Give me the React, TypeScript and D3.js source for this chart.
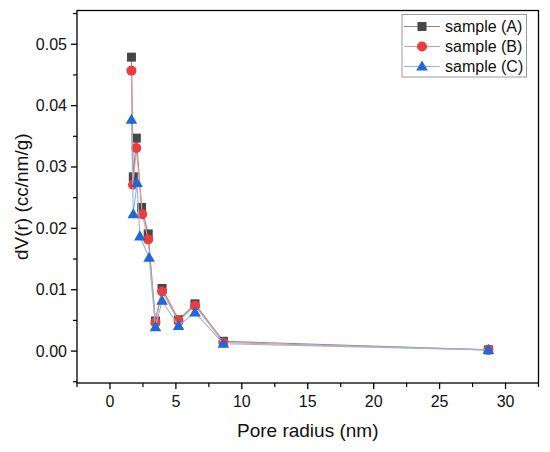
import * as d3 from "d3";

// pore radius (nm) and dV(r) (cc/nm/g)
const radiusA = [1.63, 1.77, 2.0, 2.4, 2.9, 3.45, 3.95, 5.2, 6.45, 8.6, 28.7];
const valuesA = [0.0479, 0.0284, 0.0347, 0.0234, 0.0191, 0.0049, 0.0102, 0.0051, 0.0077, 0.0016, 0.0002];
const radiusB = [1.63, 1.75, 2.0, 2.45, 2.9, 3.45, 3.95, 5.2, 6.45, 8.6, 28.7];
const valuesB = [0.0457, 0.0271, 0.0331, 0.0223, 0.0182, 0.0047, 0.0097, 0.0049, 0.0074, 0.0014, 0.0002];
const radiusC = [1.63, 1.77, 2.05, 2.27, 2.97, 3.45, 3.95, 5.2, 6.45, 8.6, 28.7];
const valuesC = [0.0377, 0.0223, 0.0274, 0.0187, 0.0152, 0.0039, 0.0082, 0.0041, 0.0063, 0.0012, 0.0002];

const seriesNames = ["sample (A)", "sample (B)", "sample (C)"];
const xTicks = [0, 5, 10, 15, 20, 25, 30];
const yTicks = [0, 0.01, 0.02, 0.03, 0.04, 0.05];

const markerColors = ["#474747", "#ee3b3b", "#1f68d8"];
const lineColors = ["#8c8c8c", "#e79595", "#8db7e6"];
const font = "'Liberation Sans', Arial, sans-serif";

function Marker({ kind, x, y, color }: { kind: number; x: number; y: number; color: string }) {
  if (kind === 0) return <rect x={x - 4.5} y={y - 4.5} width={9} height={9} fill={color} />;
  if (kind === 1) return <circle cx={x} cy={y} r={5} fill={color} />;
  const s = 5.8;
  return (
    <path
      d={`M${x},${y - s * 1.05} L${x + s},${y + s * 0.7} L${x - s},${y + s * 0.7} Z`}
      fill={color}
    />
  );
}

export default function App() {
  const width = 550;
  const height = 452;
  const left = 77;
  const right = 538.5;
  const top = 10.5;
  const bottom = 383;

  const x = d3.scaleLinear().domain([-2.5, 32.5]).range([left, right]);
  const y = d3.scaleLinear().domain([-0.0052, 0.0555]).range([bottom, top]);

  const data = [
    radiusA.map((r, i) => [r, valuesA[i]] as [number, number]),
    radiusB.map((r, i) => [r, valuesB[i]] as [number, number]),
    radiusC.map((r, i) => [r, valuesC[i]] as [number, number]),
  ];

  const line = d3
    .line<[number, number]>()
    .x((d) => x(d[0]))
    .y((d) => y(d[1]));

  const xMinor = d3.range(-2.5, 32.6, 2.5).filter((v) => !xTicks.includes(v));
  const yMinor = d3
    .range(-0.005, 0.0555, 0.01)
    .filter((v) => v >= -0.0052 && v <= 0.0555);

  return (
    <svg
      width={width}
      height={height}
      style={{ position: "absolute", left: 0, top: 0, background: "#fff" }}
      fontFamily={font}
    >
      {data.map((pts, k) => (
        <g key={k}>
          <path d={line(pts) ?? ""} fill="none" stroke={lineColors[k]} strokeWidth={1.1} />
          {pts.map((d, i) => (
            <Marker key={i} kind={k} x={x(d[0])} y={y(d[1])} color={markerColors[k]} />
          ))}
        </g>
      ))}

      {/* frame */}
      <rect
        x={left}
        y={top}
        width={right - left}
        height={bottom - top}
        fill="none"
        stroke="#000"
        strokeWidth={1.3}
      />

      {/* x axis */}
      {xTicks.map((t) => (
        <g key={t}>
          <line x1={x(t)} x2={x(t)} y1={bottom} y2={bottom + 6} stroke="#000" strokeWidth={1.3} />
          <text x={x(t)} y={bottom + 24} fontSize={16} textAnchor="middle" fill="#111">
            {t}
          </text>
        </g>
      ))}
      {xMinor.map((t) => (
        <line key={t} x1={x(t)} x2={x(t)} y1={bottom} y2={bottom + 4} stroke="#000" strokeWidth={1.2} />
      ))}
      <text x={(left + right) / 2} y={437} fontSize={19} textAnchor="middle" fill="#111">
        Pore radius (nm)
      </text>

      {/* y axis */}
      {yTicks.map((t) => (
        <g key={t}>
          <line x1={left - 6} x2={left} y1={y(t)} y2={y(t)} stroke="#000" strokeWidth={1.3} />
          <text x={left - 10} y={y(t) + 5.5} fontSize={16} textAnchor="end" fill="#111">
            {t.toFixed(2)}
          </text>
        </g>
      ))}
      {yMinor.map((t) => (
        <line key={t} x1={left - 4} x2={left} y1={y(t)} y2={y(t)} stroke="#000" strokeWidth={1.2} />
      ))}
      <text
        transform={`translate(28,${(top + bottom) / 2}) rotate(-90)`}
        fontSize={19}
        textAnchor="middle"
        fill="#111"
      >
        dV(r) (cc/nm/g)
      </text>

      {/* legend */}
      <rect x={402} y={14.5} width={124.5} height={62.5} fill="#fff" stroke="#9a9a9a" strokeWidth={1} />
      {seriesNames.map((name, k) => {
        const ly = 26.5 + k * 20;
        return (
          <g key={name}>
            <line x1={404} x2={440} y1={ly} y2={ly} stroke={lineColors[k]} strokeWidth={1.1} />
            <Marker kind={k} x={422} y={ly} color={markerColors[k]} />
            <text x={445} y={ly + 5.5} fontSize={16} fill="#111">
              {name}
            </text>
          </g>
        );
      })}
    </svg>
  );
}
